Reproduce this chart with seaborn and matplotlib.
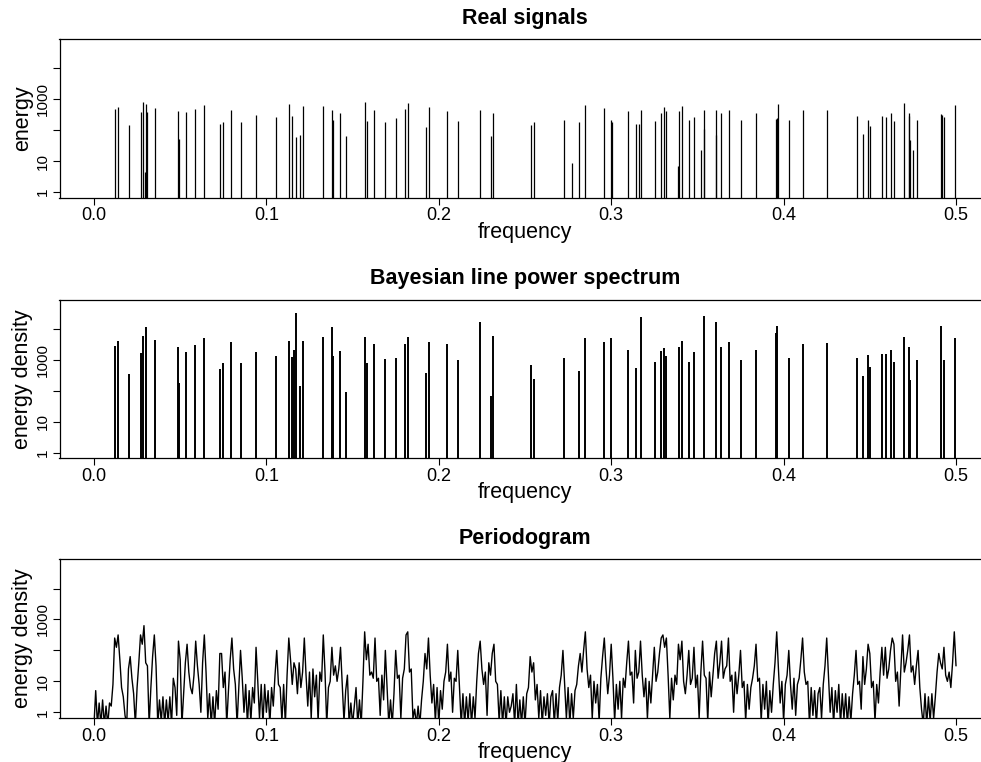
import numpy as np
import seaborn as sns
import matplotlib.pyplot as plt
from matplotlib.ticker import NullLocator

# line spectrum of the true signals (frequency, log10 energy)
signal_freq = [0.0123, 0.0138, 0.0204, 0.0270, 0.0283, 0.0295, 0.0303, 0.0306, 0.0353, 0.0485,
               0.0496, 0.0535, 0.0587, 0.0637, 0.0732, 0.0748, 0.0796, 0.0850, 0.0941, 0.1055,
               0.1129, 0.1146, 0.1169, 0.1197, 0.1214, 0.1326, 0.1380, 0.1386, 0.1427, 0.1464,
               0.1574, 0.1586, 0.1622, 0.1690, 0.1752, 0.1806, 0.1821, 0.1924, 0.1941, 0.2046,
               0.2110, 0.2237, 0.2303, 0.2313, 0.2533, 0.2555, 0.2725, 0.2773, 0.2816, 0.2847,
               0.2959, 0.2998, 0.3005, 0.3100, 0.3141, 0.3164, 0.3172, 0.3255, 0.3286, 0.3307,
               0.3317, 0.3390, 0.3394, 0.3408, 0.3449, 0.3481, 0.3518, 0.3537, 0.3541, 0.3605,
               0.3609, 0.3636, 0.3682, 0.3752, 0.3837, 0.3953, 0.3959, 0.3965, 0.4032, 0.4110,
               0.4250, 0.4424, 0.4460, 0.4489, 0.4503, 0.4569, 0.4592, 0.4624, 0.4638, 0.4698,
               0.4725, 0.4729, 0.4733, 0.4752, 0.4774, 0.4911, 0.4917, 0.4932, 0.4994]
signal_log10 = [2.68, 2.75, 2.16, 2.57, 2.90, 0.65, 2.84, 2.60, 2.72, 2.61,
                1.71, 2.58, 2.67, 2.81, 2.19, 2.26, 2.65, 2.25, 2.49, 2.43,
                2.85, 2.46, 1.77, 1.83, 2.78, 2.78, 2.65, 2.33, 2.54, 1.81,
                2.90, 2.30, 2.66, 2.27, 2.39, 2.69, 2.87, 2.10, 2.74, 2.63,
                2.30, 2.64, 1.81, 2.54, 2.17, 2.27, 2.34, 0.95, 2.26, 2.81,
                2.72, 2.33, 2.27, 2.63, 2.21, 2.20, 2.64, 2.31, 2.56, 2.74,
                2.63, 0.83, 2.63, 2.78, 2.32, 2.42, 1.36, 2.64, 2.04, 2.66,
                1.83, 2.54, 2.65, 2.32, 2.54, 2.35, 2.39, 2.85, 2.33, 2.64,
                2.65, 2.46, 1.89, 2.34, 2.14, 2.46, 2.42, 2.56, 2.28, 2.88,
                2.47, 2.55, 1.68, 1.36, 2.33, 2.52, 2.49, 2.41, 2.81]

# Bayesian line power spectrum (frequency, log10 energy density)
bayes_freq = [0.0123, 0.0138, 0.0204, 0.0270, 0.0283, 0.0303, 0.0353, 0.0485, 0.0496, 0.0535,
              0.0587, 0.0637, 0.0732, 0.0748, 0.0796, 0.0850, 0.0941, 0.1055, 0.1129, 0.1146,
              0.1163, 0.1169, 0.1197, 0.1214, 0.1326, 0.1380, 0.1386, 0.1427, 0.1464, 0.1574,
              0.1586, 0.1622, 0.1690, 0.1752, 0.1806, 0.1821, 0.1924, 0.1941, 0.2046, 0.2110,
              0.2237, 0.2303, 0.2313, 0.2533, 0.2555, 0.2725, 0.2816, 0.2847, 0.2959, 0.3000,
              0.3100, 0.3141, 0.3172, 0.3255, 0.3286, 0.3307, 0.3317, 0.3394, 0.3408, 0.3449,
              0.3481, 0.3537, 0.3605, 0.3636, 0.3682, 0.3752, 0.3837, 0.3953, 0.3962, 0.4032,
              0.4110, 0.4250, 0.4424, 0.4460, 0.4489, 0.4503, 0.4569, 0.4592, 0.4624, 0.4638,
              0.4698, 0.4727, 0.4733, 0.4774, 0.4914, 0.4932, 0.4994]
bayes_log10 = [3.43, 3.62, 2.53, 3.21, 3.77, 4.05, 3.63, 3.40, 2.24, 3.24,
               3.47, 3.71, 2.70, 2.91, 3.59, 2.88, 3.26, 3.12, 3.61, 3.08,
               3.30, 4.52, 2.15, 3.60, 3.73, 4.05, 3.13, 3.28, 1.97, 3.74,
               2.90, 3.51, 3.02, 3.05, 3.51, 3.74, 2.58, 3.56, 3.50, 2.98,
               4.23, 1.82, 3.76, 2.83, 2.39, 3.05, 2.65, 3.70, 3.57, 3.70,
               3.33, 2.75, 4.38, 2.92, 3.28, 3.38, 3.12, 3.42, 3.60, 2.93,
               3.26, 4.41, 4.22, 3.41, 3.56, 2.99, 3.32, 3.85, 4.10, 3.05,
               3.50, 3.54, 3.06, 2.46, 3.14, 2.76, 3.20, 3.18, 3.31, 2.93,
               3.73, 3.41, 2.34, 2.98, 4.09, 2.99, 3.70]

# periodogram, log10 energy density read at steps of 0.001 from 0 to 0.5
pgram_log10 = [
    -0.4, 0.7, -0.4, 0.3, -0.4, 0.4, -0.4, 0.2, -0.4, 0.3,
    0.2, 0.9, 2.4, 2.1, 2.5, 1.7, 0.8, 0.5, -0.1, -0.4,
    1.4, 1.8, 1.1, 0.6, -0.4, 0.8, 1.6, 2.5, 2.2, 2.8,
    1.6, 1.5, -0.4, 0.8, 1.8, 2.5, 1.5, -0.4, 0.4, -0.3,
    0.5, -0.4, 0.4, -0.3, 0.5, -0.4, 1.1, 0.8, -0.1, 2.3,
    1.7, -0.4, 0.6, 1.6, 2.2, 1.3, 0.8, 0.6, 1.2, 2.3,
    1.5, 0.9, 0.0, 1.6, 2.5, 1.3, -0.2, 0.6, -0.4, 0.5,
    -0.4, 0.7, 0.1, 1.9, 1.9, 0.8, 1.3, -0.4, 0.7, 1.7,
    2.4, 1.4, 0.9, -0.4, 0.8, 2.0, 1.1, 0.0, 0.9, -0.4,
    0.7, -0.3, 0.8, 0.3, 2.1, 1.0, -0.2, 0.9, -0.4, 0.9,
    0.0, 0.7, -0.4, 0.8, 0.2, 1.2, 2.0, 0.9, 0.8, -0.3,
    0.9, -0.4, 1.2, 2.4, 1.7, 0.9, 1.6, 1.4, 0.6, 1.6,
    0.8, 1.3, 2.4, 1.2, 0.2, 1.3, -0.2, 1.4, 0.5, 1.2,
    -0.3, 1.3, 1.0, 2.5, 1.3, -0.4, 0.8, 1.0, 2.1, 1.2,
    1.5, 1.0, 1.4, 2.1, 0.9, -0.3, 0.7, 1.2, -0.4, 0.3,
    -0.4, 0.2, 0.8, -0.4, 0.4, -0.4, 1.0, 2.6, 1.7, 2.2,
    1.2, 1.3, 1.1, 2.4, 1.0, 1.1, -0.1, 1.2, 0.4, 2.0,
    0.8, -0.4, 0.4, -0.4, 0.6, 2.0, 1.1, 1.2, -0.2, 1.1,
    1.4, 2.5, 2.6, 1.3, 1.4, -0.2, 0.1, -0.4, 0.2, -0.4,
    0.4, 1.0, 1.9, 1.4, 2.4, 1.2, 0.3, 0.9, -0.3, 0.8,
    -0.4, 0.7, 0.1, 1.0, 1.3, 2.2, 1.0, 1.3, 0.0, 1.1,
    1.0, 2.0, 0.8, -0.4, 0.6, -0.4, 0.5, -0.3, 0.6, -0.4,
    0.5, -0.2, 1.0, 1.9, 2.3, 1.4, 0.9, 1.3, -0.1, 1.6,
    1.2, 1.9, 2.2, 1.0, 0.9, -0.3, 0.7, -0.4, 0.5, -0.4,
    0.5, 0.0, 0.2, 0.6, -0.4, 0.9, -0.4, 0.4, -0.4, 0.5,
    -0.4, 0.6, 0.8, 1.8, 1.3, 1.6, 0.4, 0.9, -0.2, 0.7,
    -0.4, 0.5, -0.1, 0.6, -0.4, 0.5, 0.7, -0.4, 0.6, -0.3,
    0.8, 1.2, 2.0, 0.9, -0.2, 0.8, -0.4, 0.6, -0.2, 0.7,
    0.9, 1.5, 1.9, 1.3, 2.0, 2.6, 1.4, 0.8, 1.2, -0.2,
    1.0, 0.3, 0.9, -0.3, 1.1, 1.8, 2.4, 1.4, 0.6, 1.2,
    2.2, 1.1, -0.3, 0.9, 0.1, 1.0, -0.2, 1.1, 0.8, 1.6,
    2.3, 1.2, 1.3, 0.3, 2.0, 1.1, 1.3, 2.3, 1.2, 0.5,
    1.1, -0.2, 1.0, 0.3, 1.2, 2.1, 1.0, 1.3, 1.9, 2.4,
    2.5, 2.1, 2.4, 1.2, -0.2, 1.1, 0.4, 1.2, 0.9, 2.2,
    1.7, 2.3, 1.0, 0.6, 1.2, 2.0, 0.9, 1.1, 2.1, 0.8,
    1.2, -0.2, 1.3, 2.3, 1.2, 1.1, -0.3, 1.3, 0.5, 1.2,
    1.9, 2.3, 1.1, 1.6, 2.3, 1.1, 1.4, 1.5, 2.4, 1.0,
    1.2, 0.0, 1.3, 0.6, 1.2, 2.0, 0.8, 1.0, -0.3, 0.9,
    0.1, 0.8, 1.1, 1.5, 2.2, 1.0, 1.1, -0.3, 0.9, 0.1,
    1.0, -0.4, 0.7, 0.0, 0.9, 1.6, 2.6, 1.4, 0.3, 1.0,
    -0.3, 0.9, 1.2, 2.0, 0.9, 0.1, 1.1, -0.1, 0.9, 1.1,
    1.7, 2.4, 1.3, 0.9, 1.0, -0.4, 0.8, -0.1, 0.7, -0.4,
    0.6, 0.8, -0.2, 0.9, 1.5, 2.4, 1.2, 0.0, 0.8, -0.4,
    0.7, 0.0, 0.9, -0.4, 0.6, -0.2, 0.6, -0.4, 0.5, -0.3,
    0.6, 1.2, 2.0, 0.9, 1.0, 0.1, 1.8, 0.9, 1.4, 2.2,
    1.9, 0.8, 1.0, -0.3, 0.9, 0.3, 1.3, 2.1, 1.2, 2.1,
    1.1, 1.4, 2.0, 2.4, 2.2, 1.0, 1.3, 0.2, 1.4, 2.5,
    1.3, 1.6, 2.0, 2.5, 1.3, 1.5, 0.9, 1.5, 2.0, 0.8,
    0.1, -0.4, 0.6, -0.4, 0.5, -0.3, 0.6, -0.2, 0.5, 1.3,
    1.9, 1.6, 1.4, 2.1, 1.2, 1.0, 1.3, 0.8, 1.6, 2.6,
    1.5,
]
pgram_freq = np.linspace(0.0, 0.5, len(pgram_log10))

x_ticks = [0.0, 0.1, 0.2, 0.3, 0.4, 0.5]
x_labels = ["0.0", "0.1", "0.2", "0.3", "0.4", "0.5"]
y_ticks = [1, 10, 100, 1000, 10000]
y_labels = ["1", "10", "", "1000", ""]

sns.set_theme(style="ticks")
plt.rcParams['font.family'] = ['Liberation Sans', 'DejaVu Sans']
plt.rcParams.update({'text.color': 'black', 'axes.labelcolor': 'black',
                     'xtick.color': 'black', 'ytick.color': 'black',
                     'axes.edgecolor': 'black'})


def style_panel(ax, title, ylabel):
    ax.set_yscale('log')
    ax.set_xlim(-0.02, 0.52)
    ax.set_ylim(10 ** -0.185, 10 ** 4.945)
    ax.set_xticks(x_ticks)
    ax.set_xticklabels(x_labels, fontsize=13)
    ax.set_yticks(y_ticks)
    ax.set_yticklabels(y_labels, rotation=90, va='center', fontsize=11)
    ax.yaxis.set_minor_locator(NullLocator())
    ax.tick_params(direction='out', length=5, width=0.8, pad=2)
    for sp in ax.spines.values():
        sp.set_linewidth(0.9)
        sp.set_color('black')
    ax.set_title(title, fontsize=15.5, fontweight='bold', pad=11)
    ax.set_xlabel('frequency', fontsize=15.5, labelpad=-2)
    ax.set_ylabel(ylabel, fontsize=15.5, labelpad=2)


fig = plt.figure(figsize=(9.81, 7.62), dpi=100)
left, width, height = 59.5 / 981, 931 / 981, 158.7 / 762
ax1 = fig.add_axes([left, 1 - 197.7 / 762, width, height])
ax2 = fig.add_axes([left, 1 - 458.3 / 762, width, height])
ax3 = fig.add_axes([left, 1 - 718.0 / 762, width, height])

ax1.vlines(signal_freq, 0.01, np.power(10.0, signal_log10), color='black', lw=0.9)
style_panel(ax1, 'Real signals', 'energy')

ax2.vlines(bayes_freq, 0.01, np.power(10.0, bayes_log10), color='black', lw=1.4)
style_panel(ax2, 'Bayesian line power spectrum', 'energy density')

sns.lineplot(x=pgram_freq, y=np.power(10.0, pgram_log10), ax=ax3,
             color='black', lw=1.0, estimator=None)
style_panel(ax3, 'Periodogram', 'energy density')

fig.savefig('out.png', dpi=100)
